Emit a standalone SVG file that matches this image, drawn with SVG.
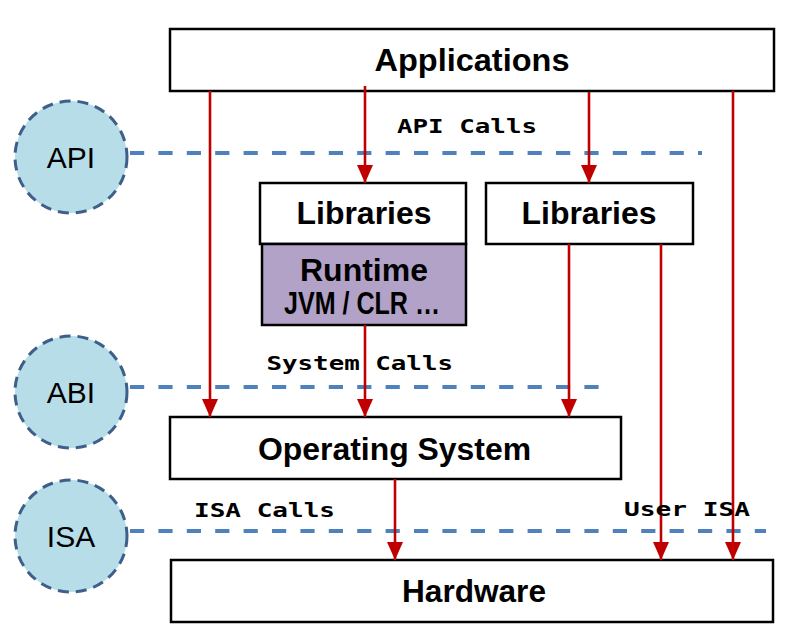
<svg xmlns="http://www.w3.org/2000/svg" width="786" height="636" viewBox="0 0 786 636">
<style>
.box{fill:#fff;stroke:#000;stroke-width:2.5}
.rt{fill:#b3a2c7;stroke:#000;stroke-width:2.5}
.lbl{font-family:"Liberation Sans",Arial,sans-serif;font-weight:bold;font-size:31px;text-anchor:middle;fill:#000}
.circ{fill:#b7dde8;stroke:#3e5f8a;stroke-width:3;stroke-dasharray:11 7}
.clbl{font-family:"Liberation Sans",Arial,sans-serif;font-size:30px;text-anchor:middle;fill:#000}
.dl{stroke:#4f81bd;stroke-width:4;stroke-dasharray:14.2 14.2;fill:none}
.mono{font-family:"DejaVu Sans Mono","Liberation Mono",monospace;font-weight:bold;font-size:20px;fill:#000}
.ar{stroke:#c00000;stroke-width:2.6;fill:none}
</style>
<defs>
<marker id="ah" markerUnits="userSpaceOnUse" markerWidth="18" markerHeight="18" viewBox="0 0 18 16" refX="18" refY="8" orient="auto">
<path d="M0,0 L18,8 L0,16 z" fill="#c00000"/>
</marker>
</defs>
<g id="levels">
<line class="dl" x1="130" y1="153" x2="702" y2="153"/>
<line class="dl" x1="130" y1="387" x2="600" y2="387"/>
<line class="dl" x1="130" y1="531" x2="766" y2="531"/>
</g>
<g id="api"><circle class="circ" cx="71" cy="157" r="56"/><text class="clbl" x="71" y="168">API</text></g>
<g id="abi"><circle class="circ" cx="71" cy="392" r="56"/><text class="clbl" x="71" y="403">ABI</text></g>
<g id="isa"><circle class="circ" cx="71" cy="536" r="56"/><text class="clbl" x="71" y="547">ISA</text></g>
<g id="applications"><rect class="box" x="170" y="29" width="604" height="62"/><text class="lbl" x="472" y="71" textLength="195" lengthAdjust="spacingAndGlyphs">Applications</text></g>
<g id="libraries1"><rect class="box" x="260" y="183" width="206" height="61"/><text class="lbl" x="364" y="224" textLength="135" lengthAdjust="spacingAndGlyphs">Libraries</text></g>
<g id="runtime"><rect class="rt" x="262" y="244" width="204" height="81"/><text class="lbl" x="364" y="280.5" font-size="28" textLength="128" lengthAdjust="spacingAndGlyphs">Runtime</text><text class="lbl" x="362" y="314" font-size="21" textLength="156" lengthAdjust="spacingAndGlyphs">JVM / CLR …</text></g>
<g id="libraries2"><rect class="box" x="486" y="183" width="207" height="61"/><text class="lbl" x="589" y="224" textLength="135" lengthAdjust="spacingAndGlyphs">Libraries</text></g>
<g id="os"><rect class="box" x="170" y="417" width="451" height="62"/><text class="lbl" x="394.5" y="460" textLength="273" lengthAdjust="spacingAndGlyphs">Operating System</text></g>
<g id="hardware"><rect class="box" x="171" y="560" width="602" height="62"/><text class="lbl" x="474" y="601.5" textLength="144" lengthAdjust="spacingAndGlyphs">Hardware</text></g>
<g id="connectors">
<line class="ar" x1="210" y1="91" x2="210" y2="417" marker-end="url(#ah)"/>
<line class="ar" x1="365" y1="86" x2="365" y2="183" marker-end="url(#ah)"/>
<line class="ar" x1="589" y1="92" x2="589" y2="183" marker-end="url(#ah)"/>
<line class="ar" x1="733" y1="91" x2="733" y2="560" marker-end="url(#ah)"/>
<line class="ar" x1="365" y1="325" x2="365" y2="417" marker-end="url(#ah)"/>
<line class="ar" x1="569" y1="244" x2="569" y2="417" marker-end="url(#ah)"/>
<line class="ar" x1="661" y1="244" x2="661" y2="560" marker-end="url(#ah)"/>
<line class="ar" x1="395" y1="479" x2="395" y2="560" marker-end="url(#ah)"/>
</g>
<g id="labels">
<text class="mono" x="397" y="133" textLength="140" lengthAdjust="spacingAndGlyphs">API Calls</text>
<text class="mono" x="266.5" y="369.5" textLength="186.5" lengthAdjust="spacingAndGlyphs">System Calls</text>
<text class="mono" x="194" y="516.5" textLength="141" lengthAdjust="spacingAndGlyphs">ISA Calls</text>
<text class="mono" x="624" y="515.5" textLength="126" lengthAdjust="spacingAndGlyphs">User ISA</text>
</g>
</svg>
